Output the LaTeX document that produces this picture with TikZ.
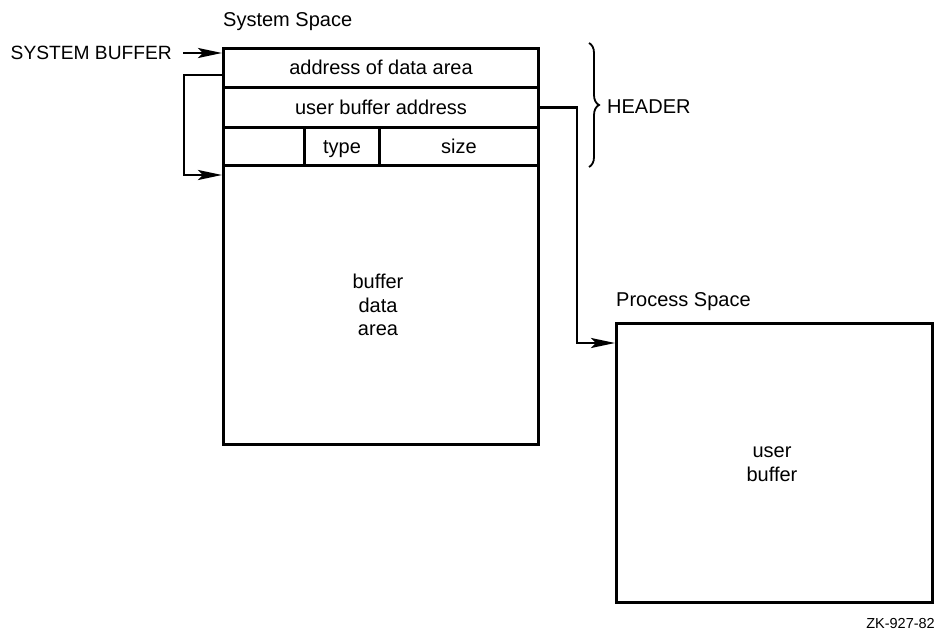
\documentclass[tikz,border=0pt]{standalone}
\usepackage{fontspec}
\setmainfont{Liberation Sans}
\usetikzlibrary{arrows.meta,decorations.pathreplacing}
\begin{document}
\begin{tikzpicture}[x=1pt,y=-1pt,
  font=\fontsize{20}{23.5}\selectfont,
  cell/.style={draw, line width=3pt, rectangle, anchor=north west, inner sep=0pt},
  label/.style={inner sep=0pt},
  rowtext/.style={label, text height=14pt, text depth=0pt},
  link/.style={line width=2.6pt, line join=miter},
  arr/.style={link, -{Stealth[length=24pt,width=10pt,inset=5pt]}},
]
\useasboundingbox (0,0) rectangle (944,644);

% system space: header rows and buffer data area
\node[cell, minimum width=315pt, minimum height=396pt] (sys) at (222,47) {};
\node[cell, minimum width=315pt, minimum height=39pt] (addr) at (222,47) {};
\node[cell, minimum width=315pt, minimum height=40pt] (uba) at (222,86) {};
\node[cell, minimum width=81pt, minimum height=38pt] (blank) at (222,126) {};
\node[cell, minimum width=75pt, minimum height=38pt] (type) at (303,126) {};
\node[cell, minimum width=159pt, minimum height=38pt] (size) at (378,126) {};
\node[rowtext] at (addr.center) {address of data area};
\node[rowtext] at (uba.center) {user buffer address};
\node[rowtext] at (type.center) {type};
\node[rowtext] at (size.center) {size};
\node[label, align=center] (data) at (378,305) {buffer\\data\\area};
\node[label, anchor=base west] (syslbl) at (223,27) {System Space};

% process space
\node[cell, minimum width=316pt, minimum height=279pt] (proc) at (615,322) {};
\node[label, align=center] (ubuf) at (772,464) {user\\buffer};
\node[label, anchor=base west] (proclbl) at (616,306) {Process Space};

% labels
\node[label, anchor=east, font=\fontsize{19.2}{23}\selectfont] (sbuf) at (172,53) {SYSTEM BUFFER};
\node[label, anchor=west] (hdr) at (607,107) {HEADER};
\node[label, anchor=base east, font=\fontsize{14.5}{16}\selectfont] (zk) at (935,628) {ZK-927-82};

% header brace
\coordinate (bt) at (589,43);
\coordinate (bb) at (589,167);
\draw[line width=1.8pt, decorate, decoration={brace, amplitude=10pt}] (bt) -- (bb);

% connectors
\draw[arr] ([xshift=11pt]sbuf.east) -- (sbuf.east -| sys.west);
\coordinate (loopT) at (184,75);
\coordinate (loopB) at (184,175);
\draw[arr] (loopT -| sys.west) -- (loopT) -- (loopB) -- (loopB -| sys.west);
\coordinate (ubB) at (577,343);
\draw[arr] (uba.east) -| (ubB) -- (ubB -| proc.west);
\end{tikzpicture}
\end{document}
